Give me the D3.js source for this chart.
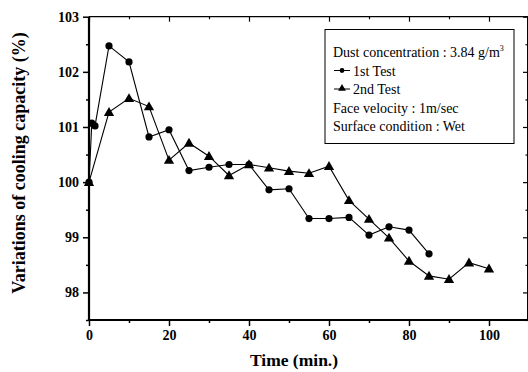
<!DOCTYPE html>
<html><head><meta charset="utf-8">
<script src="https://cdn.jsdelivr.net/npm/d3@7/dist/d3.min.js"></script>
<style>html,body{margin:0;padding:0;background:#fff;}svg{display:block;}</style>
</head><body>
<svg id="c" width="528" height="372"></svg>
<script>
const t1 = [0, 0.7, 1.5, 5, 10, 15, 20, 25, 30, 35, 40, 45, 50, 55, 60, 65, 70, 75, 80, 85];
const v1 = [100, 101.07, 101.02, 102.47, 102.18, 100.82, 100.95, 100.21, 100.27, 100.32, 100.32, 99.86, 99.88, 99.34, 99.34, 99.36, 99.04, 99.19, 99.13, 98.70];
const t2 = [0, 5, 10, 15, 20, 25, 30, 35, 40, 45, 50, 55, 60, 65, 70, 75, 80, 85, 90, 95, 100];
const v2 = [100, 101.27, 101.52, 101.37, 100.40, 100.71, 100.47, 100.12, 100.32, 100.26, 100.20, 100.16, 100.29, 99.67, 99.33, 98.99, 98.57, 98.30, 98.24, 98.54, 98.43];
const xTicks = [0, 20, 40, 60, 80, 100];
const xMinor = [10, 30, 50, 70, 90];
const yTicks = [98, 99, 100, 101, 102, 103];
const yMinor = [97.5, 98.5, 99.5, 100.5, 101.5, 102.5];
const legendLines = ["Dust concentration : 3.84 g/m", "1st Test", "2nd Test", "Face velocity : 1m/sec", "Surface condition : Wet"];

const svg = d3.select("#c");
const L = 89, R = 528, T = 16.7, B = 320;
const x = d3.scaleLinear().domain([0, 110]).range([L, L + 440]);
const y = d3.scaleLinear().domain([97.5, 103]).range([B, T]);
const serif = "'Liberation Serif','Times New Roman',serif";

// axes
function styleAxis(g, w) {
  g.select(".domain").remove();
  g.selectAll("line").attr("stroke", "#000").attr("stroke-width", w);
  g.selectAll("text").attr("font-family", serif).attr("font-weight", "bold").attr("font-size", 14).attr("fill", "#000");
}
const gx = svg.append("g").attr("transform", `translate(0,${B})`)
  .call(d3.axisBottom(x).tickValues(xTicks).tickSize(6).tickPadding(4).tickFormat(d3.format("d")));
styleAxis(gx, 1.5);
const gxm = svg.append("g").attr("transform", `translate(0,${B})`)
  .call(d3.axisBottom(x).tickValues(xMinor).tickSize(3).tickFormat(""));
styleAxis(gxm, 1.5);
const gy = svg.append("g").attr("transform", `translate(${L},0)`)
  .call(d3.axisLeft(y).tickValues(yTicks).tickSize(6).tickPadding(4).tickFormat(d3.format("d")));
styleAxis(gy, 1.5);
const gym = svg.append("g").attr("transform", `translate(${L},0)`)
  .call(d3.axisLeft(y).tickValues(yMinor).tickSize(3).tickFormat(""));
styleAxis(gym, 1.5);
// top & right inward ticks
const gt = svg.append("g").attr("transform", `translate(0,${T})`)
  .call(d3.axisBottom(x).tickValues(xTicks).tickSize(5).tickFormat(""));
styleAxis(gt, 1.2);
const gtm = svg.append("g").attr("transform", `translate(0,${T})`)
  .call(d3.axisBottom(x).tickValues(xMinor).tickSize(2.5).tickFormat(""));
styleAxis(gtm, 1.2);
const gr = svg.append("g").attr("transform", `translate(${R},0)`)
  .call(d3.axisLeft(y).tickValues(yTicks).tickSize(5).tickFormat(""));
styleAxis(gr, 1.2);
const grm = svg.append("g").attr("transform", `translate(${R},0)`)
  .call(d3.axisLeft(y).tickValues(yMinor).tickSize(2.5).tickFormat(""));
styleAxis(grm, 1.2);

// frame
svg.append("line").attr("x1", L).attr("x2", R).attr("y1", T).attr("y2", T).attr("stroke", "#000").attr("stroke-width", 1.3);
svg.append("line").attr("x1", R - 0.5).attr("x2", R - 0.5).attr("y1", T).attr("y2", B).attr("stroke", "#000").attr("stroke-width", 1);
svg.append("line").attr("x1", L).attr("x2", R).attr("y1", B).attr("y2", B).attr("stroke", "#000").attr("stroke-width", 2);
svg.append("line").attr("x1", L).attr("x2", L).attr("y1", T).attr("y2", B + 1).attr("stroke", "#000").attr("stroke-width", 2.2);

gx.selectAll("text").attr("dy", "0.71em");

// series
const line = d3.line().x(d => x(d[0])).y(d => y(d[1]));
const d1 = t1.map((t, i) => [t, v1[i]]);
const d2 = t2.map((t, i) => [t, v2[i]]);
svg.append("path").datum(d1).attr("d", line).attr("fill", "none").attr("stroke", "#000").attr("stroke-width", 1.1);
svg.append("path").datum(d2).attr("d", line).attr("fill", "none").attr("stroke", "#000").attr("stroke-width", 1.1);
const tri = d3.symbol().type(d3.symbolTriangle).size(46);
svg.append("g").selectAll("circle").data(d1).join("circle")
  .attr("cx", d => x(d[0])).attr("cy", d => y(d[1])).attr("r", 3.6).attr("fill", "#000");
svg.append("g").selectAll("path").data(d2).join("path")
  .attr("d", tri).attr("transform", d => `translate(${x(d[0])},${y(d[1]) + 0.8})`).attr("fill", "#000");

// titles
svg.append("text").attr("x", 294).attr("y", 365.5).attr("text-anchor", "middle")
  .attr("font-family", serif).attr("font-weight", "bold").attr("font-size", 17.5).text("Time (min.)");
svg.append("text").attr("transform", "translate(25,163) rotate(-90)").attr("text-anchor", "middle")
  .attr("font-family", serif).attr("font-weight", "bold").attr("font-size", 18).text("Variations of cooling capacity (%)");

// legend
const lg = svg.append("g");
lg.append("rect").attr("x", 325).attr("y", 29.5).attr("width", 189).attr("height", 114)
  .attr("fill", "#fff").attr("stroke", "#000").attr("stroke-width", 1);
const baselines = [57, 75.5, 94, 112.5, 131];
const tx = [333, 353, 353, 333, 333];
legendLines.forEach((s, i) => {
  const t = lg.append("text").attr("x", tx[i]).attr("y", baselines[i])
    .attr("font-family", serif).attr("font-size", 14).attr("fill", "#000").text(s);
  if (i === 0) t.append("tspan").attr("dy", -6).attr("font-size", 8).text("3");
});
lg.append("line").attr("x1", 334).attr("x2", 350).attr("y1", 70.5).attr("y2", 70.5).attr("stroke", "#000").attr("stroke-width", 1);
lg.append("circle").attr("cx", 342).attr("cy", 70.5).attr("r", 2.4).attr("fill", "#000");
lg.append("line").attr("x1", 334).attr("x2", 350).attr("y1", 89).attr("y2", 89).attr("stroke", "#000").attr("stroke-width", 1);
lg.append("path").attr("d", d3.symbol().type(d3.symbolTriangle).size(26)).attr("transform", "translate(342,88.5)").attr("fill", "#000");
</script>
</body></html>
